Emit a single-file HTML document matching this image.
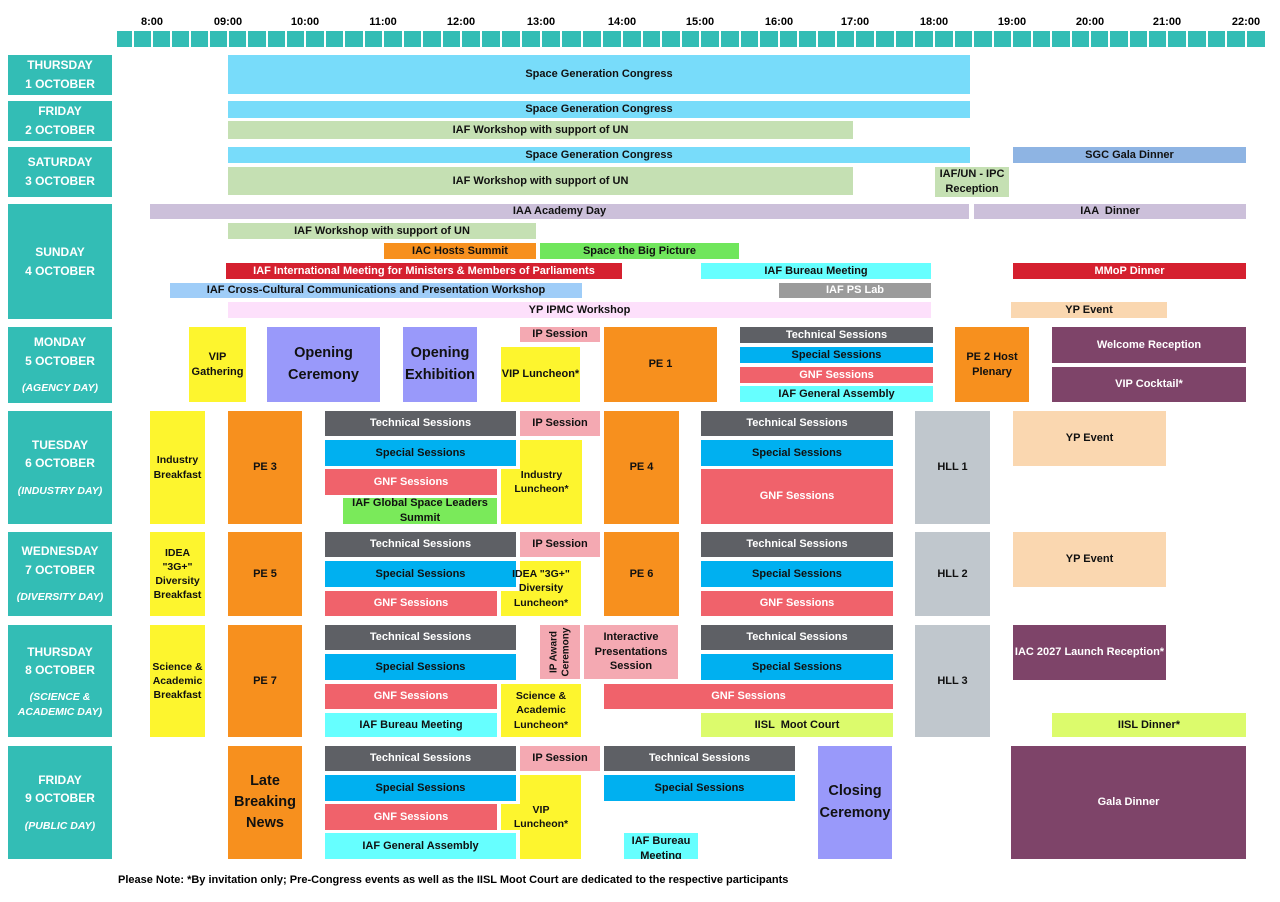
<!DOCTYPE html>
<html><head><meta charset="utf-8">
<style>
body{margin:0;width:1280px;height:902px;background:#fff;position:relative;overflow:hidden;font-family:"Liberation Sans",Arial,sans-serif;}
.b{position:absolute;display:flex;align-items:center;justify-content:center;text-align:center;font-weight:bold;font-size:11px;line-height:1.35;color:#111;box-sizing:border-box;overflow:hidden;}
.d{background:#33bdb5;color:#fff;font-size:12px;line-height:1.55;flex-direction:column;}
.d i{font-size:10.5px;margin-top:10px;}
.w{color:#fff}
.h{position:absolute;top:16px;font-size:11px;font-weight:bold;transform:translateX(-50%);}
.t{position:absolute;top:31px;height:16px;background:#33bdb5;}
.big{font-size:14.5px;line-height:1.45}
.y{background:#fdf52e}
</style></head><body>
<div id="hdr"></div>
<script>
var hrs=[[152,"8:00"],[228,"09:00"],[305,"10:00"],[383,"11:00"],[461,"12:00"],[541,"13:00"],[622,"14:00"],[700,"15:00"],[779,"16:00"],[855,"17:00"],[934,"18:00"],[1012,"19:00"],[1090,"20:00"],[1167,"21:00"],[1246,"22:00"]];
var s="";
hrs.forEach(function(h){s+='<div class="h" style="left:'+h[0]+'px">'+h[1]+'</div>';});
var edges=[116,133];
for(var i=0;i<hrs.length-1;i++){var a=hrs[i][0],b=hrs[i+1][0];for(var q=0;q<4;q++)edges.push(a+(b-a)*q/4);}
edges.push(1246);edges.push(1266);
edges.sort(function(a,b){return a-b});
for(var j=0;j<edges.length-1;j++){var x=edges[j]+1,w=edges[j+1]-edges[j]-2;s+='<div class="t" style="left:'+x+'px;width:'+w+'px"></div>';}
document.getElementById("hdr").innerHTML=s;
</script>

<!-- day labels -->
<div class="b d" style="left:8px;top:55px;width:104px;height:40px">THURSDAY<br>1 OCTOBER</div>
<div class="b d" style="left:8px;top:101px;width:104px;height:40px">FRIDAY<br>2 OCTOBER</div>
<div class="b d" style="left:8px;top:147px;width:104px;height:50px">SATURDAY<br>3 OCTOBER</div>
<div class="b d" style="left:8px;top:204px;width:104px;height:115px">SUNDAY<br>4 OCTOBER</div>
<div class="b d" style="left:8px;top:327px;width:104px;height:76px"><span>MONDAY<br>5 OCTOBER</span><i>(AGENCY DAY)</i></div>
<div class="b d" style="left:8px;top:411px;width:104px;height:113px"><span>TUESDAY<br>6 OCTOBER</span><i>(INDUSTRY DAY)</i></div>
<div class="b d" style="left:8px;top:532px;width:104px;height:84px"><span>WEDNESDAY<br>7 OCTOBER</span><i>(DIVERSITY DAY)</i></div>
<div class="b d" style="left:8px;top:625px;width:104px;height:112px"><span>THURSDAY<br>8 OCTOBER</span><i style="line-height:1.4">(SCIENCE &amp;<br>ACADEMIC DAY)</i></div>
<div class="b d" style="left:8px;top:746px;width:104px;height:113px"><span>FRIDAY<br>9 OCTOBER</span><i>(PUBLIC DAY)</i></div>

<!-- Thu 1 -->
<div class="b" style="left:228px;top:55px;width:742px;height:39px;background:#78dcfa">Space Generation Congress</div>
<!-- Fri 2 -->
<div class="b" style="left:228px;top:101px;width:742px;height:17px;background:#78dcfa">Space Generation Congress</div>
<div class="b" style="left:228px;top:121px;width:625px;height:18px;background:#c5e0b3">IAF Workshop with support of UN</div>
<!-- Sat 3 -->
<div class="b" style="left:228px;top:147px;width:742px;height:16px;background:#78dcfa">Space Generation Congress</div>
<div class="b" style="left:1013px;top:147px;width:233px;height:16px;background:#8eb4e3">SGC Gala Dinner</div>
<div class="b" style="left:228px;top:167px;width:625px;height:28px;background:#c5e0b3">IAF Workshop with support of UN</div>
<div class="b" style="left:935px;top:167px;width:74px;height:30px;background:#c5e0b3">IAF/UN - IPC<br>Reception</div>
<!-- Sun 4 -->
<div class="b" style="left:150px;top:204px;width:819px;height:15px;background:#ccc0da">IAA Academy Day</div>
<div class="b" style="left:974px;top:204px;width:272px;height:15px;background:#ccc0da">IAA &nbsp;Dinner</div>
<div class="b" style="left:228px;top:223px;width:308px;height:16px;background:#c5e0b3">IAF Workshop with support of UN</div>
<div class="b" style="left:384px;top:243px;width:152px;height:16px;background:#f7901e">IAC Hosts Summit</div>
<div class="b" style="left:540px;top:243px;width:199px;height:16px;background:#70e65c">Space the Big Picture</div>
<div class="b w" style="left:226px;top:263px;width:396px;height:16px;background:#d5202f">IAF International Meeting for Ministers &amp; Members of Parliaments</div>
<div class="b" style="left:701px;top:263px;width:230px;height:16px;background:#66ffff">IAF Bureau Meeting</div>
<div class="b w" style="left:1013px;top:263px;width:233px;height:16px;background:#d5202f">MMoP Dinner</div>
<div class="b" style="left:170px;top:283px;width:412px;height:15px;background:#9fcdf8">IAF Cross-Cultural Communications and Presentation Workshop</div>
<div class="b w" style="left:779px;top:283px;width:152px;height:15px;background:#9b9b9b">IAF PS Lab</div>
<div class="b" style="left:228px;top:302px;width:703px;height:16px;background:#fde0fb">YP IPMC Workshop</div>
<div class="b" style="left:1011px;top:302px;width:156px;height:16px;background:#fad7b0">YP Event</div>
<!-- Mon 5 -->
<div class="b y" style="left:189px;top:327px;width:57px;height:75px">VIP<br>Gathering</div>
<div class="b big" style="left:267px;top:327px;width:113px;height:75px;background:#9999fa">Opening<br>Ceremony</div>
<div class="b big" style="left:403px;top:327px;width:74px;height:75px;background:#9999fa">Opening<br>Exhibition</div>
<div class="b" style="left:520px;top:327px;width:80px;height:15px;background:#f4a9b2">IP Session</div>
<div class="b y" style="left:501px;top:347px;width:79px;height:55px">VIP Luncheon*</div>
<div class="b" style="left:604px;top:327px;width:113px;height:75px;background:#f7901e">PE 1</div>
<div class="b w" style="left:740px;top:327px;width:193px;height:16px;background:#5e6065">Technical Sessions</div>
<div class="b" style="left:740px;top:347px;width:193px;height:16px;background:#00b0f0">Special Sessions</div>
<div class="b w" style="left:740px;top:367px;width:193px;height:16px;background:#f0626b">GNF Sessions</div>
<div class="b" style="left:740px;top:386px;width:193px;height:16px;background:#66ffff">IAF General Assembly</div>
<div class="b" style="left:955px;top:327px;width:74px;height:75px;background:#f7901e">PE 2 Host<br>Plenary</div>
<div class="b w" style="left:1052px;top:327px;width:194px;height:36px;background:#7e4469">Welcome Reception</div>
<div class="b w" style="left:1052px;top:367px;width:194px;height:35px;background:#7e4469">VIP Cocktail*</div>
<!-- Tue 6 -->
<div class="b y" style="left:150px;top:411px;width:55px;height:113px;font-size:10.5px">Industry<br>Breakfast</div>
<div class="b" style="left:228px;top:411px;width:74px;height:113px;background:#f7901e">PE 3</div>
<div class="b w" style="left:325px;top:411px;width:191px;height:25px;background:#5e6065">Technical Sessions</div>
<div class="b" style="left:520px;top:411px;width:80px;height:25px;background:#f4a9b2">IP Session</div>
<div class="b" style="left:325px;top:440px;width:191px;height:26px;background:#00b0f0">Special Sessions</div>
<div class="b w" style="left:325px;top:469px;width:172px;height:26px;background:#f0626b">GNF Sessions</div>
<div class="b" style="left:343px;top:498px;width:154px;height:26px;background:#7aea5a">IAF Global Space Leaders<br>Summit</div>
<div class="b y" style="left:520px;top:440px;width:62px;height:84px"></div>
<div class="b y" style="left:501px;top:469px;width:81px;height:55px"></div>
<div class="b" style="left:501px;top:440px;width:81px;height:84px;font-size:10.5px">Industry<br>Luncheon*</div>
<div class="b" style="left:604px;top:411px;width:75px;height:113px;background:#f7901e">PE 4</div>
<div class="b w" style="left:701px;top:411px;width:192px;height:25px;background:#5e6065">Technical Sessions</div>
<div class="b" style="left:701px;top:440px;width:192px;height:26px;background:#00b0f0">Special Sessions</div>
<div class="b w" style="left:701px;top:469px;width:192px;height:55px;background:#f0626b">GNF Sessions</div>
<div class="b" style="left:915px;top:411px;width:75px;height:113px;background:#c0c7cd">HLL 1</div>
<div class="b" style="left:1013px;top:411px;width:153px;height:55px;background:#fad7b0">YP Event</div>
<!-- Wed 7 -->
<div class="b y" style="left:150px;top:532px;width:55px;height:84px;font-size:10.5px">IDEA<br>"3G+"<br>Diversity<br>Breakfast</div>
<div class="b" style="left:228px;top:532px;width:74px;height:84px;background:#f7901e">PE 5</div>
<div class="b w" style="left:325px;top:532px;width:191px;height:25px;background:#5e6065">Technical Sessions</div>
<div class="b" style="left:520px;top:532px;width:80px;height:25px;background:#f4a9b2">IP Session</div>
<div class="b" style="left:325px;top:561px;width:191px;height:26px;background:#00b0f0">Special Sessions</div>
<div class="b w" style="left:325px;top:591px;width:172px;height:25px;background:#f0626b">GNF Sessions</div>
<div class="b y" style="left:520px;top:561px;width:61px;height:55px"></div>
<div class="b y" style="left:501px;top:591px;width:80px;height:25px"></div>
<div class="b" style="left:501px;top:561px;width:80px;height:55px;font-size:10.5px">IDEA "3G+"<br>Diversity<br>Luncheon*</div>
<div class="b" style="left:604px;top:532px;width:75px;height:84px;background:#f7901e">PE 6</div>
<div class="b w" style="left:701px;top:532px;width:192px;height:25px;background:#5e6065">Technical Sessions</div>
<div class="b" style="left:701px;top:561px;width:192px;height:26px;background:#00b0f0">Special Sessions</div>
<div class="b w" style="left:701px;top:591px;width:192px;height:25px;background:#f0626b">GNF Sessions</div>
<div class="b" style="left:915px;top:532px;width:75px;height:84px;background:#c0c7cd">HLL 2</div>
<div class="b" style="left:1013px;top:532px;width:153px;height:55px;background:#fad7b0">YP Event</div>
<!-- Thu 8 -->
<div class="b y" style="left:150px;top:625px;width:55px;height:112px;font-size:10.5px">Science &amp;<br>Academic<br>Breakfast</div>
<div class="b" style="left:228px;top:625px;width:74px;height:112px;background:#f7901e">PE 7</div>
<div class="b w" style="left:325px;top:625px;width:191px;height:25px;background:#5e6065">Technical Sessions</div>
<div class="b" style="left:540px;top:625px;width:40px;height:54px;background:#f4a9b2"><span style="transform:rotate(-90deg);white-space:nowrap;font-size:10px;line-height:1.2">IP Award<br>Ceremony</span></div>
<div class="b" style="left:584px;top:625px;width:94px;height:54px;background:#f4a9b2">Interactive<br>Presentations<br>Session</div>
<div class="b" style="left:325px;top:654px;width:191px;height:26px;background:#00b0f0">Special Sessions</div>
<div class="b w" style="left:325px;top:684px;width:172px;height:25px;background:#f0626b">GNF Sessions</div>
<div class="b y" style="left:501px;top:684px;width:80px;height:53px;font-size:10.5px">Science &amp;<br>Academic<br>Luncheon*</div>
<div class="b" style="left:325px;top:713px;width:172px;height:24px;background:#66ffff">IAF Bureau Meeting</div>
<div class="b w" style="left:701px;top:625px;width:192px;height:25px;background:#5e6065">Technical Sessions</div>
<div class="b" style="left:701px;top:654px;width:192px;height:26px;background:#00b0f0">Special Sessions</div>
<div class="b w" style="left:604px;top:684px;width:289px;height:25px;background:#f0626b">GNF Sessions</div>
<div class="b" style="left:701px;top:713px;width:192px;height:24px;background:#dcfb6c">IISL &nbsp;Moot Court</div>
<div class="b" style="left:915px;top:625px;width:75px;height:112px;background:#c0c7cd">HLL 3</div>
<div class="b w" style="left:1013px;top:625px;width:153px;height:55px;background:#7e4469">IAC 2027 Launch Reception*</div>
<div class="b" style="left:1052px;top:713px;width:194px;height:24px;background:#dcfb6c">IISL Dinner*</div>
<!-- Fri 9 -->
<div class="b big" style="left:228px;top:746px;width:74px;height:113px;background:#f7901e">Late<br>Breaking<br>News</div>
<div class="b w" style="left:325px;top:746px;width:191px;height:25px;background:#5e6065">Technical Sessions</div>
<div class="b" style="left:520px;top:746px;width:80px;height:25px;background:#f4a9b2">IP Session</div>
<div class="b w" style="left:604px;top:746px;width:191px;height:25px;background:#5e6065">Technical Sessions</div>
<div class="b" style="left:325px;top:775px;width:191px;height:26px;background:#00b0f0">Special Sessions</div>
<div class="b" style="left:604px;top:775px;width:191px;height:26px;background:#00b0f0">Special Sessions</div>
<div class="b w" style="left:325px;top:804px;width:172px;height:26px;background:#f0626b">GNF Sessions</div>
<div class="b y" style="left:520px;top:775px;width:61px;height:84px"></div>
<div class="b y" style="left:501px;top:804px;width:80px;height:26px"></div>
<div class="b" style="left:501px;top:775px;width:80px;height:84px;font-size:10.5px">VIP<br>Luncheon*</div>
<div class="b" style="left:325px;top:833px;width:191px;height:26px;background:#66ffff">IAF General Assembly</div>
<div class="b" style="left:624px;top:833px;width:74px;height:26px;background:#66ffff;align-items:flex-start;padding-top:1px">IAF Bureau<br>Meeting</div>
<div class="b big" style="left:818px;top:746px;width:74px;height:113px;background:#9999fa">Closing<br>Ceremony</div>
<div class="b w" style="left:1011px;top:746px;width:235px;height:113px;background:#7e4469">Gala Dinner</div>

<div style="position:absolute;left:118px;top:874px;font-size:11px;font-weight:bold;">Please Note: *By invitation only; Pre-Congress events as well as the IISL Moot Court are dedicated to the respective participants</div>
</body></html>
